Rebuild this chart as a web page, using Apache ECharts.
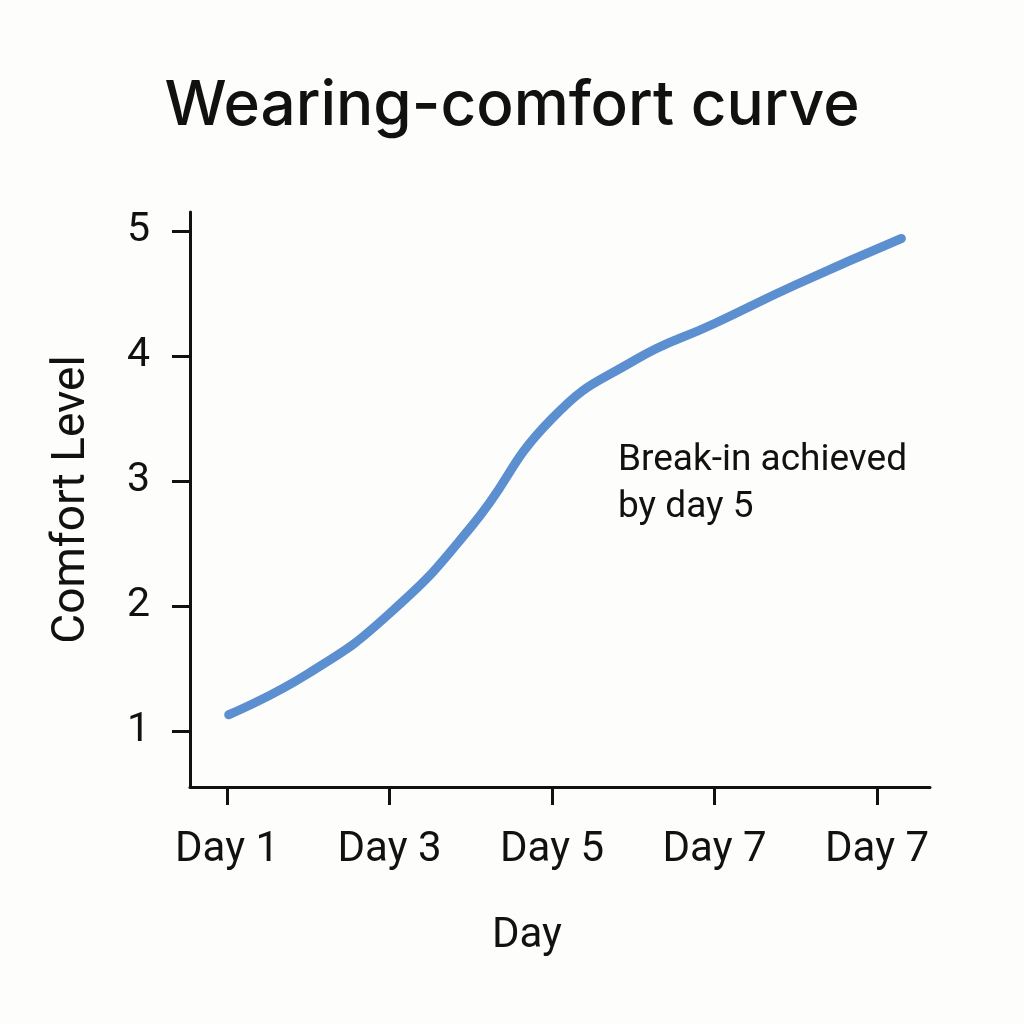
<!DOCTYPE html>
<html>
<head>
<meta charset="utf-8">
<script src="https://cdn.jsdelivr.net/npm/echarts@6/dist/echarts.min.js"></script>
<style>
  html, body { margin: 0; padding: 0; background: #fdfdfb; }
  #main { width: 1024px; height: 1024px; }
</style>
</head>
<body>
<div id="main"></div>
<script>
  // tick labels along x (positions 0..4), note the duplicated last label
  const dayLabels = ['Day 1', 'Day 3', 'Day 5', 'Day 7', 'Day 7']
  const dayTicks = [0, 1, 2, 3, 4]
  const levelTicks = [1, 2, 3, 4, 5]

  // curve, x in tick units
  const dayPos = [0.01, 0.5, 1.0, 1.5, 2.0, 2.5, 3.0, 3.5, 4.15]
  const comfort = [1.13, 1.46, 1.94, 2.63, 3.50, 3.96, 4.26, 4.57, 4.94]

  const note = 'Break-in achieved\nby day 5'

  const points = dayPos.map(function (d, i) { return [d, comfort[i]] })

  const chart = echarts.init(document.getElementById('main'))
  chart.setOption({
    backgroundColor: '#fdfdfb',
    animation: false,
    title: {
      text: 'Wearing-comfort curve',
      left: 'center',
      top: 70,
      textStyle: {
        fontFamily: 'Inter',
        fontWeight: 500,
        fontSize: 62,
        color: '#111'
      }
    },
    grid: {
      left: 190,
      right: 94,
      top: 212,
      bottom: 237
    },
    xAxis: {
      type: 'value',
      min: -0.228,
      max: 4.326,
      name: 'Day',
      nameLocation: 'middle',
      nameGap: 128,
      nameTextStyle: { fontFamily: 'Roboto', fontSize: 42, color: '#111', padding: [0, 66, 0, 0] },
      splitLine: { show: false },
      axisLine: { onZero: false, lineStyle: { color: '#111', width: 3 } },
      axisTick: { customValues: dayTicks, length: 18, lineStyle: { color: '#111', width: 3 } },
      axisLabel: {
        customValues: dayTicks,
        margin: 42,
        fontFamily: 'Roboto',
        fontSize: 42,
        color: '#111',
        formatter: function (v) { return dayLabels[Math.round(v)] }
      }
    },
    yAxis: {
      type: 'value',
      min: 0.552,
      max: 5.152,
      name: 'Comfort Level',
      nameLocation: 'middle',
      nameGap: 95,
      nameTextStyle: { fontFamily: 'Roboto', fontSize: 46, color: '#111' },
      splitLine: { show: false },
      axisLine: { onZero: false, lineStyle: { color: '#111', width: 3 } },
      axisTick: { customValues: levelTicks, length: 18, lineStyle: { color: '#111', width: 3 } },
      axisLabel: {
        customValues: levelTicks,
        margin: 40,
        fontFamily: 'Roboto',
        fontSize: 41,
        color: '#111'
      }
    },
    graphic: [{
      type: 'text',
      left: 618,
      top: 437,
      style: {
        text: note,
        font: '37px Roboto',
        lineHeight: 47,
        fill: '#111'
      }
    }],
    series: [{
      type: 'line',
      data: points,
      smooth: 0.5,
      showSymbol: false,
      lineStyle: {
        color: '#5b8fd0',
        width: 9,
        cap: 'round',
        join: 'round'
      }
    }]
  })
</script>
</body>
</html>
